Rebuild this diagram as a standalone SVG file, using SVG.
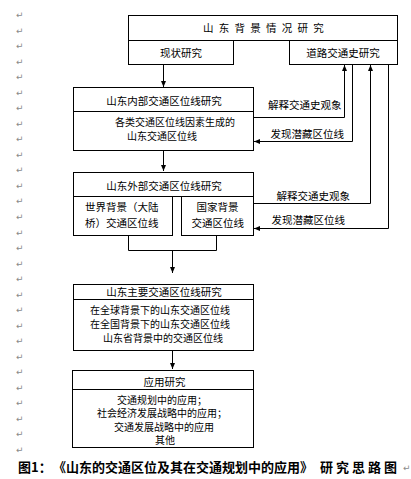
<svg xmlns="http://www.w3.org/2000/svg" width="411" height="479" viewBox="0 0 411 479">
<style>
.box{fill:#fff;stroke:#000;stroke-width:1}
.t{font-family:"Noto Sans CJK SC","Liberation Sans",sans-serif;font-size:10.5px;fill:#000}
.b{font-family:"Noto Sans CJK SC","Liberation Sans",sans-serif;font-size:10px;fill:#000}
.ln{fill:none;stroke:#000;stroke-width:1}
.pm{font-family:"DejaVu Sans",sans-serif;font-size:9px;fill:#8a8a8a}
.cap{font-family:"Noto Sans CJK SC","Liberation Sans",sans-serif;font-size:13px;font-weight:bold;fill:#000}
</style>
<defs>
<marker id="ah" viewBox="0 0 6 6" refX="6" refY="3" markerWidth="6" markerHeight="6" markerUnits="userSpaceOnUse" orient="auto">
<path d="M0,0.5 L6,3 L0,5.5 Z" fill="#000"/>
</marker>
</defs>
<rect width="411" height="479" fill="#fff"/>
<g id="marks">
<text class="pm" x="16" y="18">↵</text>
<text class="pm" x="16" y="34">↵</text>
<text class="pm" x="16" y="49">↵</text>
<text class="pm" x="16" y="65">↵</text>
<text class="pm" x="16" y="80">↵</text>
<text class="pm" x="16" y="96">↵</text>
<text class="pm" x="16" y="111">↵</text>
<text class="pm" x="16" y="127">↵</text>
<text class="pm" x="16" y="142">↵</text>
<text class="pm" x="16" y="158">↵</text>
<text class="pm" x="16" y="173">↵</text>
<text class="pm" x="16" y="189">↵</text>
<text class="pm" x="16" y="204">↵</text>
<text class="pm" x="16" y="220">↵</text>
<text class="pm" x="16" y="236">↵</text>
<text class="pm" x="16" y="251">↵</text>
<text class="pm" x="16" y="267">↵</text>
<text class="pm" x="16" y="282">↵</text>
<text class="pm" x="16" y="298">↵</text>
<text class="pm" x="16" y="313">↵</text>
<text class="pm" x="16" y="329">↵</text>
<text class="pm" x="16" y="344">↵</text>
<text class="pm" x="16" y="360">↵</text>
<text class="pm" x="16" y="375">↵</text>
<text class="pm" x="16" y="391">↵</text>
<text class="pm" x="16" y="406">↵</text>
<text class="pm" x="16" y="422">↵</text>
<text class="pm" x="16" y="437">↵</text>
<text class="pm" x="16" y="453">↵</text>
</g>
<g id="n1">
<rect class="box" x="128.5" y="15.5" width="269" height="25"/>
<text class="t" x="203" y="32" letter-spacing="5.25">山东背景情况研究</text>
</g>
<g id="n1a">
<rect class="box" x="128.5" y="40.5" width="105" height="24"/>
<text class="t" x="181" y="57" text-anchor="middle">现状研究</text>
</g>
<g id="n1b">
<rect class="box" x="289.5" y="40.5" width="108" height="24"/>
<text class="t" x="343" y="57" text-anchor="middle">道路交通史研究</text>
</g>
<g id="n2">
<rect class="box" x="73.5" y="87.5" width="180" height="63"/>
<line class="ln" x1="73.5" y1="111.5" x2="253.5" y2="111.5"/>
<text class="t" x="164" y="104.5" text-anchor="middle">山东内部交通区位线研究</text>
<text class="b" x="115" y="125.5">各类交通区位线因素生成的</text>
<text class="b" x="127" y="139.5">山东交通区位线</text>
</g>
<g id="n3">
<rect class="box" x="73.5" y="172.5" width="180" height="24"/>
<text class="t" x="164" y="189.5" text-anchor="middle">山东外部交通区位线研究</text>
</g>
<g id="n3a">
<rect class="box" x="73.5" y="196.5" width="99" height="39"/>
<text class="t" x="85" y="211">世界背景（大陆</text>
<text class="t" x="85" y="226.5">桥）交通区位线</text>
</g>
<g id="n3b">
<rect class="box" x="181.5" y="196.5" width="72" height="39"/>
<text class="t" x="196.5" y="211">国家背景</text>
<text class="t" x="191.5" y="226.5">交通区位线</text>
</g>
<g id="n4">
<rect class="box" x="73.5" y="284.5" width="180" height="66"/>
<line class="ln" x1="73.5" y1="299.5" x2="253.5" y2="299.5"/>
<text class="t" x="164" y="295.5" text-anchor="middle">山东主要交通区位线研究</text>
<text class="b" x="90" y="314">在全球背景下的山东交通区位线</text>
<text class="b" x="90" y="328">在全国背景下的山东交通区位线</text>
<text class="b" x="103" y="342">山东省背景中的交通区位线</text>
</g>
<g id="n5">
<rect class="box" x="72.5" y="370.5" width="181" height="77"/>
<line class="ln" x1="72.5" y1="389.5" x2="253.5" y2="389.5"/>
<text class="t" x="143.5" y="385.5">应用研究</text>
<text class="b" x="117" y="403.5">交通规划中的应用；</text>
<text class="b" x="97" y="417">社会经济发展战略中的应用；</text>
<text class="b" x="114" y="430.5">交通发展战略中的应用</text>
<text class="b" x="155" y="444">其他</text>
</g>
<g id="connectors">
<line class="ln" x1="163.5" y1="64.5" x2="163.5" y2="87" marker-end="url(#ah)"/>
<line class="ln" x1="163.5" y1="150.5" x2="163.5" y2="171" marker-end="url(#ah)"/>
<polyline class="ln" points="128.5,235.5 128.5,250.5 216.5,250.5 216.5,235.5"/>
<line class="ln" x1="172.5" y1="250.5" x2="172.5" y2="273" marker-end="url(#ah)"/>
<line class="ln" x1="172.5" y1="350.5" x2="172.5" y2="369" marker-end="url(#ah)"/>
<polyline class="ln" points="253.5,117.5 344.5,117.5 344.5,65" marker-end="url(#ah)"/>
<polyline class="ln" points="352.5,64.5 352.5,141.5 254,141.5" marker-end="url(#ah)"/>
<polyline class="ln" points="253.5,203.5 370.5,203.5 370.5,65" marker-end="url(#ah)"/>
<polyline class="ln" points="388.5,64.5 388.5,228.5 254,228.5" marker-end="url(#ah)"/>
<text class="t" x="268" y="109">解释交通史观象</text>
<text class="t" x="270.5" y="138">发现潜藏区位线</text>
<text class="t" x="276.5" y="199.5">解释交通史观象</text>
<text class="t" x="271.5" y="224">发现潜藏区位线</text>
</g>
<g id="caption">
<text class="cap" y="472"><tspan x="18">图1：</tspan><tspan x="53">《山东的交通区位及其在交通规划中的应用》</tspan><tspan x="320" letter-spacing="3">研究思路图</tspan></text>
<text class="pm" x="403" y="471">↵</text>
</g>
</svg>
